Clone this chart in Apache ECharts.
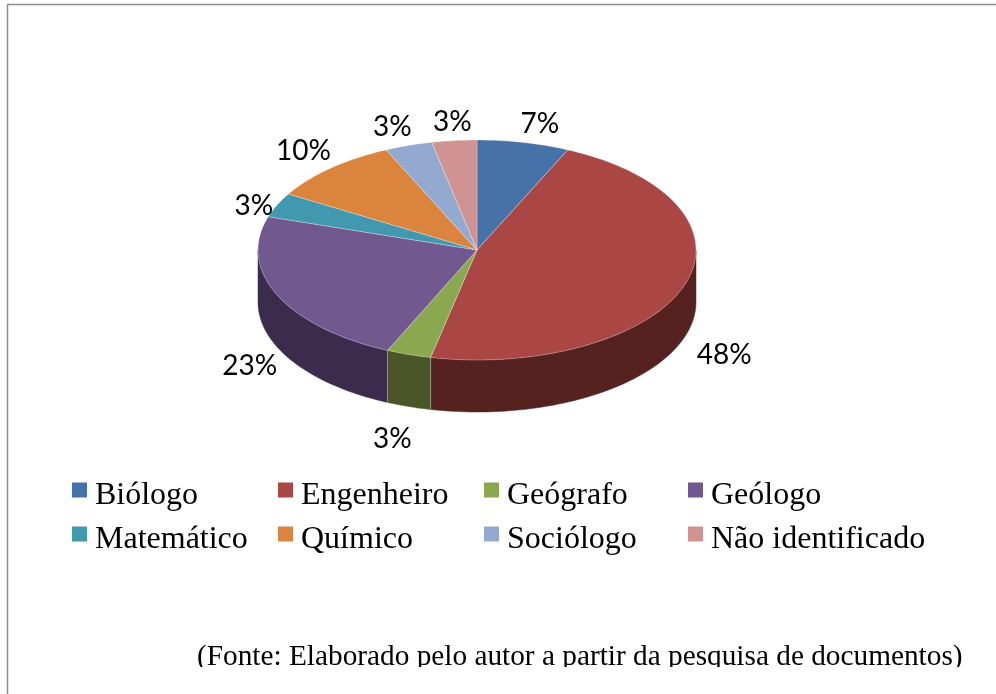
<!DOCTYPE html>
<html>
<head>
<meta charset="utf-8">
<style>html,body{margin:0;padding:0;background:#fff}#c{width:996px;height:694px}</style>
<script src="https://cdn.jsdelivr.net/npm/echarts@6/dist/echarts.min.js"></script>
</head>
<body>
<div id="c"></div>
<script>
const categories = ['Biólogo','Engenheiro','Geógrafo','Geólogo','Matemático','Químico','Sociólogo','Não identificado'];
const values = [6.8,46.6,3.3,23.2,3.6,9.7,3.5,3.3];
const valueLabels = ['7%','48%','3%','23%','3%','10%','3%','3%'];
const topColors = ['#4672a8','#aa4644','#8aa84f','#71588f','#4198af','#db843d','#93a9cf','#d19392'];
const wallColors = ['#2c4669','#552220','#4a5528','#3b2c4d','#215463','#7a4820','#4d5a73','#755250'];
const footnote = '(Fonte: Elaborado pelo autor a partir da pesquisa de documentos)';

const CX = 477, CY = 250, RX = 219, RY = 110, DEPTH = 52;
const labelNudgeX = [10,11,-7,0,4,-7,-7,1];
const labelNudgeY = [1,1,2,0,9,-2,0,1];
const legendCols = [72,278,484,688];
const legendRows = [480,524];
const swatchIcon = 'path://M0,0H15V15H0Z M0,27H0.01V27.01H0Z';

const total = values.reduce((a,b)=>a+b,0);
const startAngles = [];
values.reduce((acc,v,i)=>{startAngles[i]=acc;return acc+v/total*360;},0);

const rad = d => d*Math.PI/180;
const px = (a,dy=0) => [CX+RX*Math.sin(rad(a)), CY-RY*Math.cos(rad(a))+dy];
function arc(a,b,dy=0){
  const n = Math.max(2,Math.ceil(Math.abs(b-a)/1.5)), pts=[];
  for(let k=0;k<=n;k++) pts.push(px(a+(b-a)*k/n,dy));
  return pts;
}

function renderSlice(i){
  const a = startAngles[i], b = a+values[i]/total*360, mid=(a+b)/2;
  const children=[];
  const wa=Math.max(a,90), wb=Math.min(b,270);
  if(wb>wa){
    const pts = arc(wa,wb).concat(arc(wb,wa,DEPTH));
    children.push({type:'polygon',shape:{points:pts},style:{fill:wallColors[i],stroke:wallColors[i],lineWidth:0.5}});
    [a,b].forEach(e=>{
      if(e>90&&e<270){
        const p=px(e);
        children.push({type:'line',shape:{x1:p[0],y1:p[1],x2:p[0],y2:p[1]+DEPTH},
          style:{stroke:'rgba(255,255,255,0.45)',lineWidth:0.8}});
      }
    });
  }
  children.push({type:'polygon',shape:{points:[[CX,CY]].concat(arc(a,b))},
    style:{fill:topColors[i],stroke:'rgba(255,255,255,0.4)',lineWidth:0.7}});
  const s=Math.sin(rad(mid)), c=Math.cos(rad(mid));
  const front = c<0 ? DEPTH+11 : 0;
  children.push({type:'text',z2:10,style:{
    text:valueLabels[i],
    x:CX+(RX+30)*s+labelNudgeX[i],
    y:CY-(RY+20)*c+front+labelNudgeY[i],
    align:'center',verticalAlign:'middle',
    font:'28px Lato',fill:'#000'
  }});
  return {type:'group',children};
}

const chart = echarts.init(document.getElementById('c'),null,{renderer:'canvas'});
chart.setOption({
  animation:false,
  backgroundColor:'#fff',
  color:topColors,
  tooltip:{show:false},
  legend:categories.map((name,i)=>({
    data:[name],
    left:legendCols[i%4],
    top:legendRows[Math.floor(i/4)],
    orient:'horizontal',
    padding:0,
    selectedMode:false,
    icon:swatchIcon,
    itemWidth:15,
    itemHeight:27,
    textStyle:{fontFamily:'Liberation Serif',fontSize:32,color:'#000',padding:[0,0,0,3]}
  })),
  series:categories.map((name,i)=>({
    type:'custom',
    name,
    coordinateSystem:'none',
    silent:true,
    clip:false,
    itemStyle:{color:topColors[i]},
    data:[values[i]],
    renderItem:()=>renderSlice(i)
  })),
  graphic:[
    {type:'text',z:5,style:{text:footnote,x:197,y:657,verticalAlign:'middle',font:'29.3px "Liberation Serif"',fill:'#000'}},
    {type:'rect',z:6,shape:{x:10,y:667,width:986,height:27},style:{fill:'#fff'}},
    {type:'line',z:7,shape:{x1:7.5,y1:4.5,x2:996,y2:4.5},style:{stroke:'#8e8e8e',lineWidth:1.5}},
    {type:'line',z:7,shape:{x1:7.5,y1:4,x2:7.5,y2:694},style:{stroke:'#8e8e8e',lineWidth:1.5}}
  ]
});
</script>
</body>
</html>
